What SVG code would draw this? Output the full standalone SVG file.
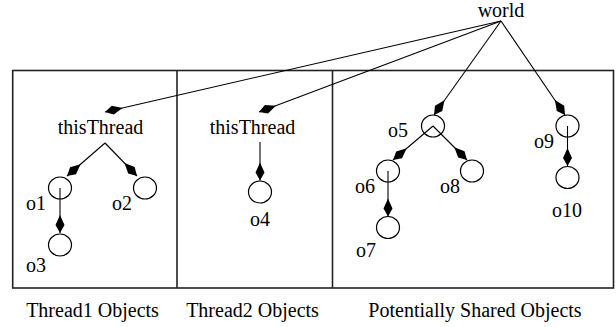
<svg xmlns="http://www.w3.org/2000/svg" width="616" height="327" viewBox="0 0 616 327">
<style>
text{font-family:"Liberation Serif","Times New Roman",serif;font-size:20px;fill:#000;text-anchor:middle}
.c{fill:#fff;stroke:#000;stroke-width:1.2}
.e{stroke:#000;stroke-width:1.1;fill:none;marker-end:url(#dia)}
.box{fill:none;stroke:#222;stroke-width:1.6}
</style>
<defs>
<marker id="dia" markerUnits="userSpaceOnUse" markerWidth="22" markerHeight="12" viewBox="-20 -6 22 12" refX="0" refY="0" orient="auto">
<path d="M0,0 L-8,-4.5 L-18,0 L-8,4.5 Z" fill="#000"/>
</marker>
</defs>
<g id="sections">
<rect class="box" x="12.7" y="70.5" width="600.8" height="217.5"/>
<line class="box" x1="177" y1="70.5" x2="177" y2="288"/>
<line class="box" x1="332.5" y1="70.5" x2="332.5" y2="288"/>
<text x="92.5" y="317">Thread1 Objects</text>
<text x="252.5" y="317">Thread2 Objects</text>
<text x="475" y="317">Potentially Shared Objects</text>
</g>
<g id="connectors">
<line class="e" x1="501" y1="21" x2="105" y2="112"/>
<line class="e" x1="501" y1="21" x2="259" y2="112"/>
<line class="e" x1="501" y1="21" x2="434" y2="115"/>
<line class="e" x1="501" y1="21" x2="565" y2="115"/>
<line class="e" x1="105" y1="143" x2="67" y2="176"/>
<line class="e" x1="105" y1="143" x2="137" y2="176"/>
<line class="e" x1="60" y1="188" x2="60" y2="233"/>
<line class="e" x1="260" y1="142" x2="260" y2="180.5"/>
<line class="e" x1="433" y1="126" x2="393" y2="160"/>
<line class="e" x1="433" y1="126" x2="467" y2="160"/>
<line class="e" x1="388" y1="171" x2="388" y2="216.5"/>
<line class="e" x1="567.5" y1="126" x2="567.5" y2="166"/>
</g>
<g id="world"><text x="501" y="17">world</text></g>
<g id="thisThread1"><text x="100.5" y="134">thisThread</text></g>
<g id="thisThread2"><text x="252.5" y="134">thisThread</text></g>
<g id="o1"><ellipse class="c" cx="60" cy="188" rx="11.5" ry="11" style="fill:none"/><text x="36" y="210">o1</text></g>
<g id="o2"><ellipse class="c" cx="145" cy="188" rx="11.5" ry="11"/><text x="122" y="210">o2</text></g>
<g id="o3"><ellipse class="c" cx="60" cy="245" rx="11.5" ry="11"/><text x="36" y="272">o3</text></g>
<g id="o4"><ellipse class="c" cx="260" cy="192" rx="11.5" ry="11"/><text x="260" y="226">o4</text></g>
<g id="o5"><ellipse class="c" cx="433" cy="126" rx="11.5" ry="11" style="fill:none"/><text x="398" y="137">o5</text></g>
<g id="o6"><ellipse class="c" cx="388" cy="171" rx="11.5" ry="11" style="fill:none"/><text x="365" y="193">o6</text></g>
<g id="o7"><ellipse class="c" cx="388" cy="227.5" rx="11.5" ry="11"/><text x="366" y="257">o7</text></g>
<g id="o8"><ellipse class="c" cx="472" cy="171" rx="11.5" ry="11"/><text x="450" y="193">o8</text></g>
<g id="o9"><ellipse class="c" cx="567.5" cy="126" rx="11.5" ry="11" style="fill:none"/><text x="544" y="148">o9</text></g>
<g id="o10"><ellipse class="c" cx="567.5" cy="177.5" rx="11.5" ry="11"/><text x="567" y="217">o10</text></g>
</svg>
